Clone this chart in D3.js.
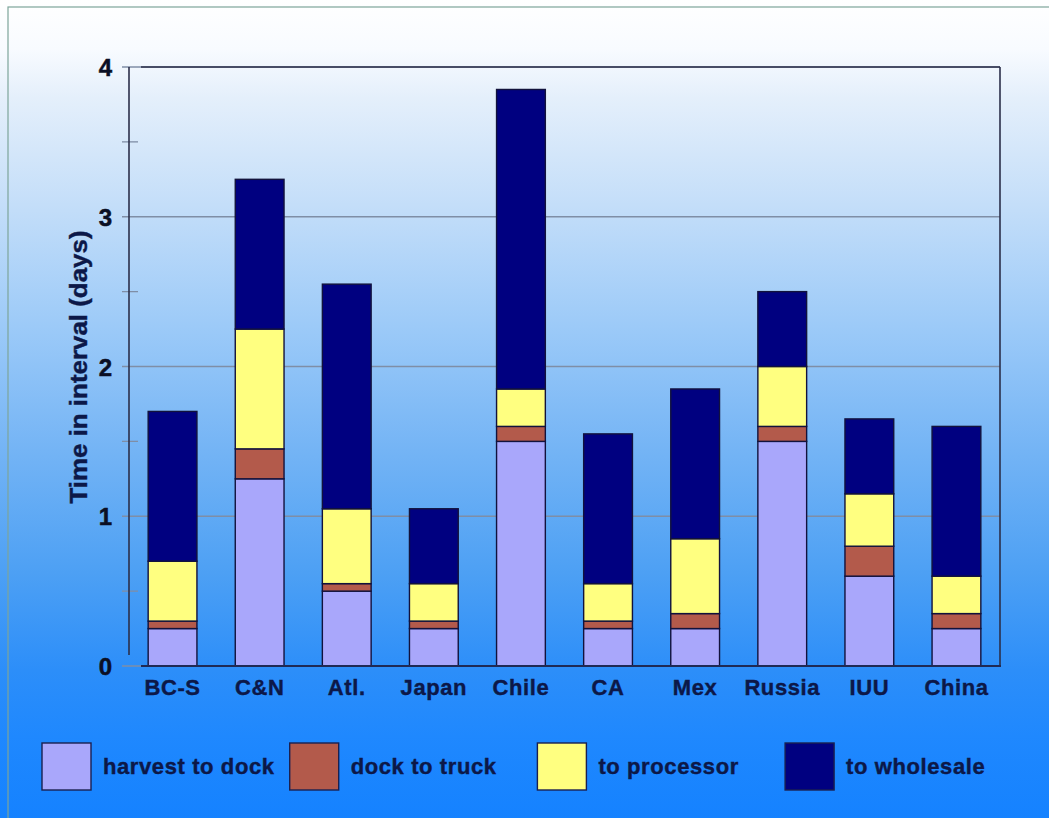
<!DOCTYPE html>
<html>
<head>
<meta charset="utf-8">
<script src="https://cdn.jsdelivr.net/npm/d3@7"></script>
<style>
  html, body { margin: 0; padding: 0; background: #ffffff; }
  svg { display: block; }
  text { font-family: "Liberation Sans", Arial, sans-serif; font-weight: bold; }
</style>
</head>
<body>
<svg id="chart" width="1049" height="818"></svg>
<script>
// Fishery supply chain: days spent in each interval, by source
const categories = ["BC-S", "C&N", "Atl.", "Japan", "Chile", "CA", "Mex", "Russia", "IUU", "China"];
const seriesNames = ["harvest to dock", "dock to truck", "to processor", "to wholesale"];
const harvestToDock = [0.25, 1.25, 0.50, 0.25, 1.50, 0.25, 0.25, 1.50, 0.60, 0.25];
const dockToTruck   = [0.05, 0.20, 0.05, 0.05, 0.10, 0.05, 0.10, 0.10, 0.20, 0.10];
const toProcessor   = [0.40, 0.80, 0.50, 0.25, 0.25, 0.25, 0.50, 0.40, 0.35, 0.25];
const toWholesale   = [1.00, 1.00, 1.50, 0.50, 2.00, 1.00, 1.00, 0.50, 0.50, 1.00];
const yTicks = [0, 1, 2, 3, 4];
const yMinorTicks = [0.5, 1.5, 2.5, 3.5];
const seriesColors = ["#a9a7fb", "#b35a4b", "#ffff80", "#000080"];

const rows = categories.map((c, i) => ({
  category: c,
  "harvest to dock": harvestToDock[i],
  "dock to truck": dockToTruck[i],
  "to processor": toProcessor[i],
  "to wholesale": toWholesale[i]
}));

const W = 1049, H = 818;
const plot = { left: 129, right: 1000, top: 67, bottom: 666 };
const svg = d3.select("#chart");
const defs = svg.append("defs");

// Slide background: white at the top fading into saturated blue
const grad = defs.append("linearGradient")
  .attr("id", "bg").attr("x1", 0).attr("y1", 0).attr("x2", 0).attr("y2", 1);
[[0, "#ffffff"], [0.06, "#f8fbff"], [0.12, "#e4effb"], [0.25, "#c4def9"],
 [0.4, "#9ccaf8"], [0.55, "#74b4f5"], [0.7, "#4da0f4"], [0.82, "#2c8ef9"],
 [0.9, "#1f88fe"], [1, "#1582ff"]]
  .forEach(([o, c]) => grad.append("stop").attr("offset", o).attr("stop-color", c));

svg.append("rect").attr("width", W).attr("height", H).attr("fill", "url(#bg)");
// thin frame line along top and left
svg.append("rect").attr("x", 8).attr("y", 7).attr("width", W + 20).attr("height", H + 20)
  .attr("fill", "none").attr("stroke", "#7da59a").attr("stroke-width", 1.2);

const x = d3.scaleBand().domain(categories)
  .range([plot.left, plot.right]).paddingInner(0.44).paddingOuter(0.22);
const y = d3.scaleLinear().domain([0, 4]).range([plot.bottom, plot.top]);
const color = d3.scaleOrdinal().domain(seriesNames).range(seriesColors);

// gridlines + major ticks
const grid = svg.append("g");
grid.selectAll("line.major").data(yTicks).join("line")
  .attr("class", "major")
  .attr("x1", plot.left - 7).attr("x2", plot.right)
  .attr("y1", d => y(d)).attr("y2", d => y(d))
  .attr("stroke", "#7f8ea6").attr("stroke-width", 1.3);
grid.selectAll("line.minor").data(yMinorTicks).join("line")
  .attr("class", "minor")
  .attr("x1", plot.left - 7).attr("x2", plot.left + 9)
  .attr("y1", d => y(d)).attr("y2", d => y(d))
  .attr("stroke", "#7f8ea6").attr("stroke-width", 1.3);

// plot frame
const frame = svg.append("g").attr("stroke", "#2b2f4a").attr("stroke-width", 1.6).attr("fill", "none");
frame.append("line").attr("x1", plot.left).attr("x2", plot.left).attr("y1", plot.top).attr("y2", plot.bottom - 11);
frame.append("line").attr("x1", plot.left + 12).attr("x2", plot.right).attr("y1", plot.top).attr("y2", plot.top);
frame.append("line").attr("x1", plot.right).attr("x2", plot.right).attr("y1", plot.top).attr("y2", plot.bottom);

// stacked bars
const stacked = d3.stack().keys(seriesNames)(rows);
svg.append("g").selectAll("g").data(stacked).join("g")
  .attr("fill", d => color(d.key))
  .selectAll("rect").data(d => d).join("rect")
  .attr("x", d => x(d.data.category))
  .attr("width", x.bandwidth())
  .attr("y", d => y(d[1]))
  .attr("height", d => y(d[0]) - y(d[1]))
  .attr("stroke", "#12123c").attr("stroke-width", 1.4);

// x baseline
svg.append("line").attr("x1", plot.left + 12).attr("x2", plot.right + 1)
  .attr("y1", plot.bottom).attr("y2", plot.bottom)
  .attr("stroke", "#1f2a55").attr("stroke-width", 1.8);

// y tick labels
const yAxis = d3.axisLeft(y).tickValues(yTicks).tickFormat(d3.format("d")).tickSize(0).tickPadding(0);
const ya = svg.append("g").attr("transform", `translate(${plot.left - 17},0)`).call(yAxis);
ya.select(".domain").remove();
ya.selectAll("text")
  .attr("font-size", 24).attr("font-family", "Liberation Sans, Arial, sans-serif")
  .attr("font-weight", "bold").attr("fill", "#0b0f24").attr("dy", "0.36em")
  .attr("stroke", "#0b0f24").attr("stroke-width", 0.5);

// category labels
const xAxis = d3.axisBottom(x).tickSize(0).tickPadding(0);
const xa = svg.append("g").attr("transform", `translate(0,${plot.bottom + 29})`).call(xAxis);
xa.select(".domain").remove();
xa.selectAll("text")
  .attr("font-size", 22).attr("font-family", "Liberation Sans, Arial, sans-serif")
  .attr("font-weight", "bold").attr("fill", "#0c1848").attr("dy", 0)
  .attr("stroke", "#0c1848").attr("stroke-width", 0.4)
  .attr("letter-spacing", 0.6);

// y axis title
svg.append("text")
  .attr("transform", `translate(87,367) rotate(-90) scale(1.08,1)`)
  .attr("text-anchor", "middle")
  .attr("font-size", 24).attr("fill", "#0c1848")
  .attr("stroke", "#0c1848").attr("stroke-width", 0.4)
  .text("Time in interval (days)");

// legend
const legend = svg.append("g").attr("transform", "translate(42,743)");
const item = legend.selectAll("g").data(seriesNames).join("g")
  .attr("transform", (d, i) => `translate(${i * 247.7},0)`);
item.append("rect")
  .attr("width", 49).attr("height", 47)
  .attr("fill", d => color(d))
  .attr("stroke", "#1a2050").attr("stroke-width", 1.4);
item.append("text")
  .attr("x", 61).attr("y", 31)
  .attr("font-size", 22).attr("fill", "#0c1848")
  .attr("stroke", "#0c1848").attr("stroke-width", 0.4)
  .attr("letter-spacing", 0.6)
  .text(d => d);
</script>
</body>
</html>
